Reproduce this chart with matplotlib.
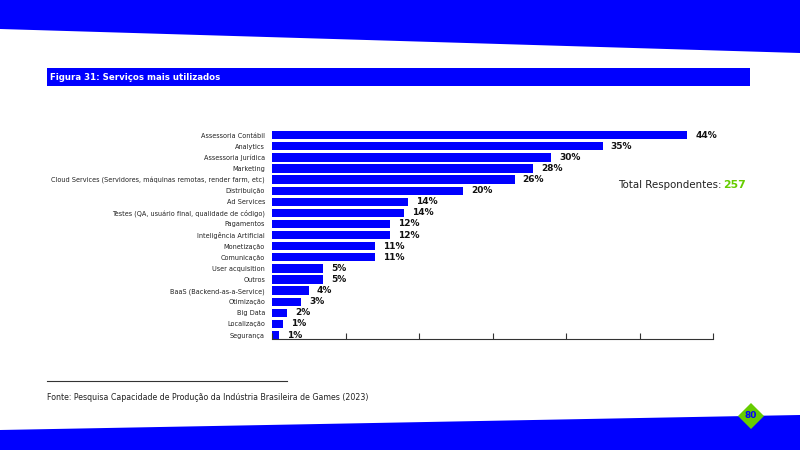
import matplotlib
matplotlib.use('Agg')
import matplotlib.pyplot as plt
from matplotlib.patches import Polygon, Rectangle

# data (respondent counts, total 257)
categories = [
    'Assessoria Contábil', 'Analytics', 'Assessoria Jurídica', 'Marketing',
    'Cloud Services (Servidores, máquinas remotas, render farm, etc)',
    'Distribuição', 'Ad Services',
    'Testes (QA, usuário final, qualidade de código)', 'Pagamentos',
    'Inteligência Artificial', 'Monetização', 'Comunicação',
    'User acquisition', 'Outros', 'BaaS (Backend-as-a-Service)',
    'Otimização', 'Big Data', 'Localização', 'Segurança',
]
counts = [113, 90, 76, 71, 66, 52, 37, 36, 32, 32, 28, 28, 14, 14, 10, 8, 4, 3, 2]
pct_labels = ['44%', '35%', '30%', '28%', '26%', '20%', '14%', '14%', '12%', '12%',
              '11%', '11%', '5%', '5%', '4%', '3%', '2%', '1%', '1%']
x_ticks = [0, 20, 40, 60, 80, 100, 120]
total = 257

BLUE = '#0000ff'
GREEN = '#66cc00'
W, H = 800, 450


def px(x, y):
    """pixel coords (origin top-left) -> figure fraction"""
    return (x / W, 1 - y / H)


fig = plt.figure(figsize=(8, 4.5), dpi=100)

# page decoration
fig.add_artist(Polygon([px(0, 0), px(800, 0), px(800, 53), px(0, 29)],
                       closed=True, transform=fig.transFigure, color=BLUE, lw=0))
fig.add_artist(Polygon([px(0, 430), px(800, 415), px(800, 450), px(0, 450)],
                       closed=True, transform=fig.transFigure, color=BLUE, lw=0))
x0, y0 = px(47, 86)
fig.add_artist(Rectangle((x0, y0), 703 / W, 18 / H, transform=fig.transFigure,
                         color=BLUE, lw=0))
fig.text(50 / W, 1 - 77 / H, 'Figura 31: Serviços mais utilizados', color='white',
         fontsize=6.2, fontweight='bold', va='center', ha='left')

# footnote
fig.add_artist(plt.Line2D([47 / W, 287 / W], [1 - 381 / H] * 2,
                          transform=fig.transFigure, color='#333333', lw=0.8))
fig.text(47 / W, 1 - 397 / H,
         'Fonte: Pesquisa Capacidade de Produção da Indústria Brasileira de Games (2023)',
         fontsize=5.7, color='#222222', va='center', ha='left')

# page badge
cx, cy = 751, 416
fig.add_artist(Polygon([px(cx, cy - 13), px(cx + 13, cy), px(cx, cy + 13), px(cx - 13, cy)],
                       closed=True, transform=fig.transFigure, color=GREEN, lw=0))
fig.text(cx / W, 1 - cy / H, '80', color=BLUE, fontsize=6.5, fontweight='bold',
         ha='center', va='center')

# chart
ax = fig.add_axes([272 / W, 0.2462, 441 / W, 0.4658])
y = list(range(len(categories)))
ax.barh(y, counts, height=0.75, color=BLUE)
for yi, c, lab in zip(y, counts, pct_labels):
    ax.text(c + 2.2, yi, lab, va='center', ha='left', fontsize=6.5,
            fontweight='bold', color='#111111')

ax.set_xlim(0, 120)
ax.set_ylim(18.375, -0.5)
ax.set_yticks(y)
ax.set_yticklabels(categories, fontsize=4.7, color='#222222')
ax.set_xticks(x_ticks)
ax.set_xticklabels([])
ax.tick_params(axis='y', length=0, pad=5)
ax.tick_params(axis='x', direction='in', length=4, width=0.8, color='#333333')
for s in ['top', 'right', 'left']:
    ax.spines[s].set_visible(False)
ax.spines['bottom'].set_color('#333333')
ax.spines['bottom'].set_linewidth(0.8)

fig.text(722 / W, 1 - 185 / H, 'Total Respondentes:', fontsize=7.4, color='#222222',
         ha='right', va='center')
fig.text(746 / W, 1 - 185 / H, str(total), fontsize=7.8, color=GREEN, fontweight='bold',
         ha='right', va='center')

fig.savefig('out.png', dpi=100)
